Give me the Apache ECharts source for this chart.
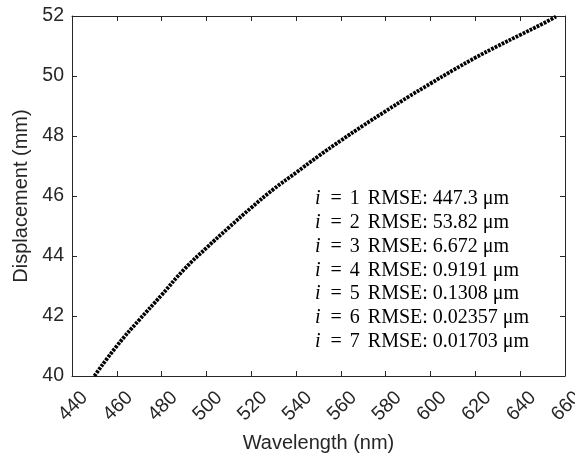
<!doctype html>
<html>
<head>
<meta charset="utf-8"/>
<title>displacement vs wavelength</title>
<script src="https://cdn.jsdelivr.net/npm/echarts@6/dist/echarts.min.js"></script>
<style>
*{margin:0;padding:0;}
body{background:#fff;}
#main{width:575px;height:461px;}
</style>
</head>
<body>
<div id="main"></div>
<script type="text/javascript">
// values
var wavelength = [450, 460, 470, 480, 490, 500, 510, 520, 530, 540, 550,
                  560, 570, 580, 590, 600, 610, 620, 630, 640, 650, 656];
var displacement = [40.0, 41.0, 41.87, 42.7, 43.55, 44.27, 44.95, 45.61, 46.23, 46.78, 47.33,
                    47.85, 48.35, 48.83, 49.3, 49.75, 50.19, 50.61, 51.0, 51.37, 51.74, 51.98];
var fitOrder = [1, 2, 3, 4, 5, 6, 7];
var rmse = ['447.3', '53.82', '6.672', '0.9191', '0.1308', '0.02357', '0.01703'];

var axisColor = '#262626';
var sans = '"Liberation Sans", Arial, sans-serif';
var serif = '"Liberation Serif", "Times New Roman", serif';

var chart = echarts.init(document.getElementById('main'));

// one legend-like line per fit order
var lines = fitOrder.map(function (k, idx) {
  return '{i|i}{eq|=}{n|' + k + '}RMSE: ' + rmse[idx] + ' \u03bcm';
});

function boxAxis(pos, show) {
  return {
    position: pos,
    axisLine: {show: true, onZero: false, lineStyle: {color: axisColor, width: 1}},
    axisTick: {show: true, inside: true, length: 5, lineStyle: {color: axisColor}},
    axisLabel: {show: show},
    splitLine: {show: false}
  };
}

var xBase = {type: 'value', min: 440, max: 660, interval: 20};
var yBase = {type: 'value', min: 40, max: 52, interval: 2};

var option = {
  animation: false,
  grid: {left: 72, right: 10, top: 16, bottom: 85, outerBoundsMode: 'none'},
  xAxis: [
    Object.assign({}, xBase, boxAxis('bottom', true), {
      name: 'Wavelength (nm)',
      nameLocation: 'middle',
      nameGap: 57,
      nameTextStyle: {fontFamily: sans, fontSize: 20, color: axisColor},
      axisLabel: {rotate: 45, margin: 6, verticalAlign: 'top', padding: [8, 0, 0, 0],
                  fontFamily: sans, fontSize: 19.5, color: axisColor}
    }),
    Object.assign({}, xBase, boxAxis('top', false))
  ],
  yAxis: [
    Object.assign({}, yBase, boxAxis('left', true), {
      name: 'Displacement (mm)',
      nameLocation: 'middle',
      nameGap: 37,
      nameTextStyle: {fontFamily: sans, fontSize: 20, color: axisColor},
      axisLabel: {margin: 8, fontFamily: sans, fontSize: 19.5, color: axisColor}
    }),
    Object.assign({}, yBase, boxAxis('right', false))
  ],
  series: [{
    type: 'line',
    data: wavelength.map(function (w, i) { return [w, displacement[i]]; }),
    smooth: true,
    showSymbol: false,
    lineStyle: {color: '#000', width: 3.8, type: [2.8, 1.1]}
  }],
  graphic: [{
    type: 'text',
    left: 315,
    top: 187,
    style: {
      text: lines.join('\n'),
      fontFamily: serif,
      fontSize: 20,
      lineHeight: 23.8,
      fill: '#000',
      rich: {
        i: {fontFamily: serif, fontStyle: 'italic', fontSize: 20, lineHeight: 23.8},
        eq: {fontFamily: serif, fontSize: 20, lineHeight: 23.8, padding: [0, 8, 0, 10]},
        n: {fontFamily: serif, fontSize: 20, lineHeight: 23.8, padding: [0, 8, 0, 0]}
      }
    }
  }]
};

chart.setOption(option);
</script>
</body>
</html>
